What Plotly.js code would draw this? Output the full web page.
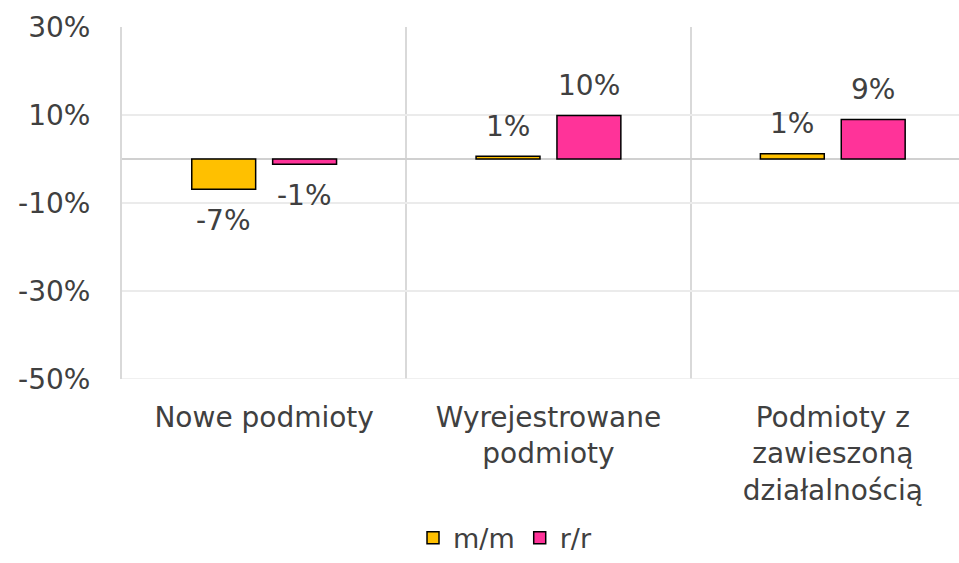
<!DOCTYPE html>
<html>
<head>
<meta charset="utf-8">
<script src="https://cdn.plot.ly/plotly-3.0.1.min.js"></script>
<style>html,body{margin:0;padding:0;background:#fff;}#chart{width:959px;height:563px;}</style>
</head>
<body>
<div id="chart"></div>
<script>
const categories = ["Nowe podmioty", "Wyrejestrowane<br>podmioty", "Podmioty z<br>zawieszoną<br>działalnością"];
const seriesNames = ["m/m", "r/r"];
const mmValues = [-6.9, 0.6, 1.2];
const rrValues = [-1.2, 9.9, 9.0];
const yTickVals = [-50, -30, -10, 10, 30];
const yTickText = ["-50%", "-30%", "-10%", "10%", "30%"];

const FONT = "DejaVu Sans, sans-serif";
const TXT = "#404040";
const FS = 28;

const traces = [
  {type: "bar", name: seriesNames[0], x: categories, y: mmValues,
   marker: {color: "#FFC000", line: {color: "#000", width: 1.5}}, hoverinfo: "skip"},
  {type: "bar", name: seriesNames[1], x: categories, y: rrValues,
   marker: {color: "#FF3399", line: {color: "#000", width: 1.5}}, hoverinfo: "skip"}
];

const annotations = [];
[mmValues, rrValues].forEach((vals, si) => {
  vals.forEach((v, i) => {
    annotations.push({
      x: categories[i], y: v, xref: "x", yref: "y",
      text: Math.round(v) + "%", showarrow: false,
      xshift: si === 0 ? -40.5 : 40.5, yshift: v >= 0 ? 30 : -31,
      yanchor: "middle", xanchor: "center",
      font: {family: FONT, size: FS, color: TXT}
    });
  });
});

const layout = {
  width: 959, height: 563,
  margin: {l: 122, r: 0, t: 27, b: 184, autoexpand: false},
  paper_bgcolor: "#fff", plot_bgcolor: "#fff",
  barmode: "group", bargap: 0.431, bargroupgap: 0.21,
  font: {family: FONT, size: FS, color: TXT},
  showlegend: true,
  legend: {orientation: "h", x: 0.4576, xanchor: "center", y: -0.522, yanchor: "bottom",
           font: {family: FONT, size: 27, color: TXT}, itemclick: false, tracegroupgap: 0},
  xaxis: {type: "category", range: [-0.5, 2.444], tickson: "boundaries",
          showgrid: true, gridcolor: "#d9d9d9", gridwidth: 2, ticks: "", ticklen: 0,
          showline: false, zeroline: false, automargin: false, ticklabelstandoff: 19},
  yaxis: {range: [-50, 30], tickvals: yTickVals, ticktext: yTickText,
          showgrid: true, gridcolor: "#ebebeb", gridwidth: 1.5,
          zeroline: true, zerolinecolor: "#d0d0d0", zerolinewidth: 2,
          showline: true, linecolor: "#d9d9d9", linewidth: 2,
          ticks: "", automargin: false, ticklabelstandoff: 24},
  shapes: [{type: "line", xref: "paper", yref: "y", x0: 0, x1: 1, y0: -50, y1: -50,
            line: {color: "#ebebeb", width: 1.5}}],
  annotations: annotations
};

Plotly.newPlot("chart", traces, layout, {displayModeBar: false, staticPlot: true});
</script>
</body>
</html>
